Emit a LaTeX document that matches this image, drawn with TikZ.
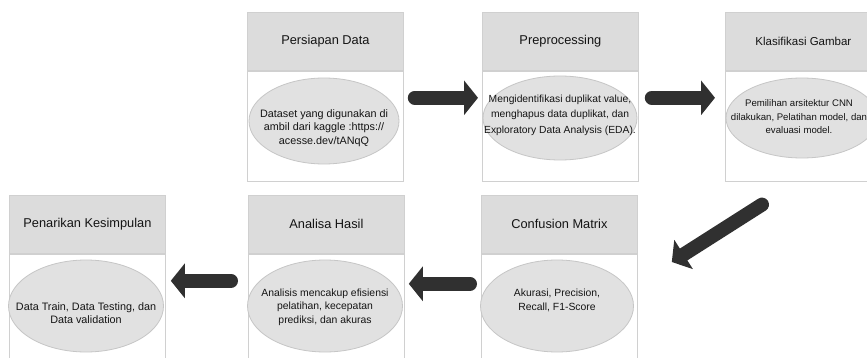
\documentclass[tikz,border=0pt]{standalone}
\usepackage{fontspec}
\setmainfont{Liberation Sans}
\usetikzlibrary{arrows.meta,calc,shapes.geometric}
\definecolor{headfill}{HTML}{DCDCDC}
\definecolor{boxline}{HTML}{D0D0D0}
\definecolor{ellfill}{HTML}{E1E1E1}
\definecolor{ellline}{HTML}{C6C6C6}
\definecolor{arrowcol}{HTML}{303030}
\definecolor{txt}{HTML}{141414}
\tikzset{
  headbox/.style={draw=boxline, fill=headfill, line width=0.8, minimum width=156, minimum height=58, anchor=north west, inner sep=0, text=txt, font=\fontsize{12.8}{15}\selectfont},
  bodybox/.style={draw=boxline, fill=white, line width=0.8, minimum width=156, anchor=north, inner sep=0},
  ellbox/.style={ellipse, draw=ellline, fill=ellfill, line width=0.8, inner sep=0},
  elltext/.style={align=center, text=txt, inner sep=0},
  bigarrow/.style={draw=arrowcol, line width=14, line cap=round, -{Triangle[length=14pt,width=34pt]}}
}
\begin{document}
\begin{tikzpicture}[x=1pt,y=-1pt]
\useasboundingbox (0,0) rectangle (867,358);
\clip (0,0) rectangle (867,358);
% top row
\node[headbox] (h1) at (247,12) {Persiapan Data};
\node[bodybox, minimum height=110] (b1) at (h1.south) {};
\node[headbox] (h2) at (482,12) {Preprocessing};
\node[bodybox, minimum height=110] (b2) at (h2.south) {};
\node[headbox, font=\fontsize{11.5}{13}\selectfont] (h3) at (725,12) {Klasifikasi Gambar};
\node[bodybox, minimum height=110] (b3) at (h3.south) {};
% bottom row
\node[headbox] (h4) at (9,195) {Penarikan Kesimpulan};
\node[bodybox, minimum height=110] (b4) at (h4.south) {};
\node[headbox] (h5) at (248,195) {Analisa Hasil};
\node[bodybox, minimum height=110] (b5) at (h5.south) {};
\node[headbox] (h6) at (481,195) {Confusion Matrix};
\node[bodybox, minimum height=110] (b6) at (h6.south) {};
% ellipses
\node[ellbox, minimum width=150, minimum height=86] (e1) at (324,121) {};
\node[elltext, font=\fontsize{10.8}{13.3}\selectfont] (t1) at (324,128) {Dataset yang digunakan di\\ambil dari kaggle :https://\\acesse.dev/tANqQ};
\node[ellbox, minimum width=154, minimum height=84] (e2) at (560,118) {};
\node[elltext, font=\fontsize{10.3}{15.5}\selectfont] (t2) at (560,115) {Mengidentifikasi duplikat value,\\menghapus data duplikat, dan\\Exploratory Data Analysis (EDA).};
\node[ellbox, minimum width=152, minimum height=80] (e3) at (802,118) {};
\node[elltext, font=\fontsize{9.6}{13.5}\selectfont] (t3) at (799,117) {Pemilihan arsitektur CNN\\dilakukan, Pelatihan model, dan\\evaluasi model.};
\node[ellbox, minimum width=155, minimum height=92] (e4) at (86,306) {};
\node[elltext, font=\fontsize{10.8}{12.5}\selectfont] (t4) at (86,313) {Data Train, Data Testing, dan\\Data validation};
\node[ellbox, minimum width=155, minimum height=92] (e5) at (325,306) {};
\node[elltext, font=\fontsize{10.4}{13.5}\selectfont] (t5) at (325,307) {Analisis mencakup efisiensi\\pelatihan, kecepatan\\prediksi, dan akuras};
\node[ellbox, minimum width=153, minimum height=92] (e6) at (557,306) {};
\node[elltext, font=\fontsize{10.4}{14}\selectfont] (t6) at (557,300) {Akurasi, Precision,\\Recall, F1-Score};
% arrows
\draw[bigarrow] ($(h1.south east)+(11,27)$) -- ($(h2.south west)+(-4,27)$);
\draw[bigarrow] ($(h2.south east)+(13,27)$) -- ($(h3.south west)+(-10,27)$);
\draw[bigarrow] ($(b3.south west)+(37,23)$) -- ($(h6.north east)+(34,67)$);
\draw[bigarrow] ($(h6.south west)+(-11,30)$) -- ($(h5.south east)+(4,30)$);
\draw[bigarrow] ($(h5.south west)+(-17,27)$) -- ($(h4.south east)+(5,27)$);
\end{tikzpicture}
\end{document}
